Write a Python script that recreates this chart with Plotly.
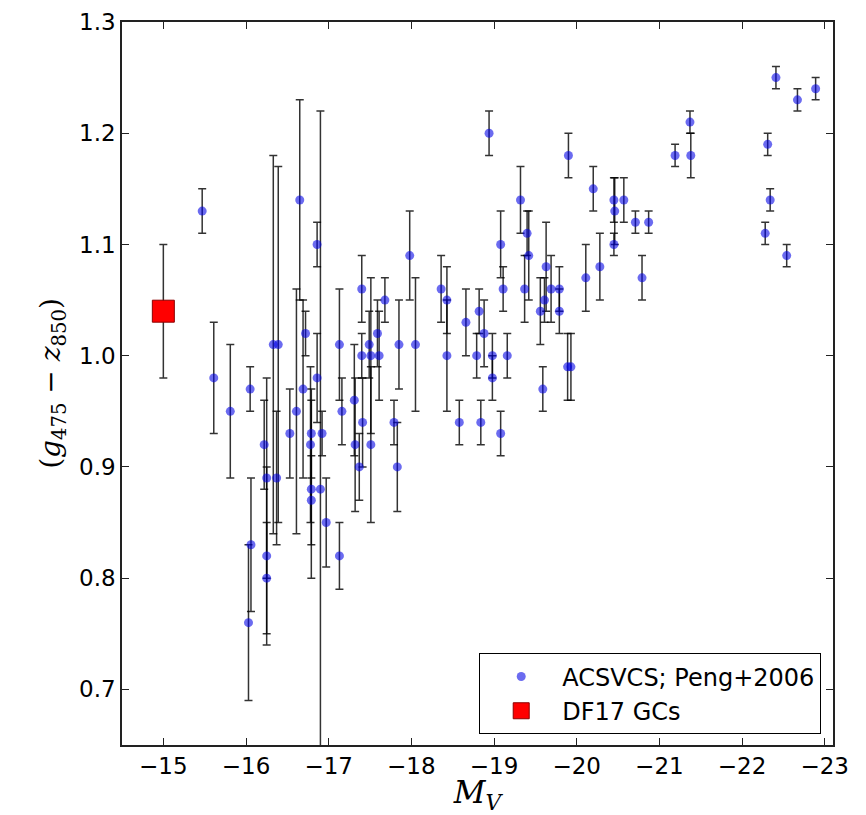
import plotly.graph_objects as go

# ACSVCS galaxies (Peng et al. 2006): absolute V magnitude, GC colour, colour error
acs_mv = [-15.47, -15.61, -15.81, -16.05, -16.06, -16.03, -16.22, -16.25, -16.25, -16.25,
          -16.33, -16.39, -16.37, -16.53, -16.61, -16.65, -16.72, -16.69, -16.86, -16.86,
          -16.79, -16.78, -16.79, -16.79, -16.90, -16.92, -16.97, -17.13, -17.16, -17.13,
          -17.31, -17.32, -17.37, -17.40, -17.40, -17.41, -17.49, -17.51, -17.51, -17.59,
          -17.61, -17.68, -17.79, -17.83, -17.85, -17.98, -18.05, -18.36, -18.43, -18.43,
          -18.58, -18.66, -18.79, -18.82, -18.84, -18.88, -18.94, -18.98, -18.98, -19.08,
          -19.11, -19.08, -19.16, -19.32, -19.37, -19.40, -19.42, -19.56, -19.59, -19.61,
          -19.63, -19.69, -19.79, -19.79, -19.89, -19.93, -19.90, -20.11, -20.20, -20.28,
          -20.45, -20.46, -20.45, -20.57, -20.71, -20.87, -20.79, -21.19, -21.37, -21.38,
          -22.31, -22.41, -22.34, -22.28, -22.54, -22.67, -22.89]
acs_color = [1.13, 0.98, 0.95, 0.97, 0.83, 0.76, 0.92, 0.89, 0.82, 0.80,
             1.01, 1.01, 0.89, 0.93, 0.95, 1.14, 1.02, 0.97, 1.10, 0.98,
             0.93, 0.92, 0.88, 0.87, 0.88, 0.93, 0.85, 1.01, 0.95, 0.82,
             0.96, 0.92, 0.90, 1.06, 1.00, 0.94, 1.01, 1.00, 0.92, 1.02,
             1.00, 1.05, 0.94, 0.90, 1.01, 1.09, 1.01, 1.06, 1.05, 1.00,
             0.94, 1.03, 1.00, 1.04, 0.94, 1.02, 1.20, 1.00, 0.98, 1.10,
             1.06, 0.93, 1.00, 1.14, 1.06, 1.11, 1.09, 1.04, 0.97, 1.05,
             1.08, 1.06, 1.06, 1.04, 0.99, 0.99, 1.18, 1.07, 1.15, 1.08,
             1.14, 1.13, 1.10, 1.14, 1.12, 1.12, 1.07, 1.18, 1.21, 1.18,
             1.19, 1.25, 1.14, 1.11, 1.09, 1.23, 1.24]
acs_err = [0.02, 0.05, 0.06, 0.02, 0.06, 0.07, 0.04, 0.09, 0.08, 0.05,
           0.17, 0.16, 0.06, 0.04, 0.11, 0.09, 0.02, 0.08, 0.02, 0.04,
           0.04, 0.07, 0.08, 0.04, 0.34, 0.02, 0.04, 0.05, 0.03, 0.03,
           0.05, 0.06, 0.03, 0.03, 0.02, 0.04, 0.03, 0.07, 0.07, 0.03,
           0.04, 0.02, 0.02, 0.04, 0.04, 0.04, 0.06, 0.03, 0.03, 0.05,
           0.02, 0.03, 0.02, 0.02, 0.02, 0.03, 0.02, 0.02, 0.02, 0.03,
           0.02, 0.02, 0.02, 0.03, 0.03, 0.02, 0.04, 0.03, 0.02, 0.02,
           0.04, 0.03, 0.02, 0.02, 0.03, 0.03, 0.02, 0.03, 0.02, 0.03,
           0.02, 0.03, 0.01, 0.02, 0.01, 0.01, 0.02, 0.01, 0.01, 0.02,
           0.01, 0.01, 0.01, 0.01, 0.01, 0.01, 0.01]

# DF17 globular clusters
df17_mv = [-15.0]
df17_color = [1.04]
df17_err = [0.06]

x_ticks = [-15, -16, -17, -18, -19, -20, -21, -22, -23]
y_ticks = [0.7, 0.8, 0.9, 1.0, 1.1, 1.2, 1.3]
x_range = [-14.5, -23.1]
y_range = [0.65, 1.3]

fig = go.Figure()

fig.add_trace(go.Scatter(
    x=acs_mv, y=acs_color, mode="markers", name="ACSVCS; Peng+2006",
    marker=dict(size=9, color="rgba(0,0,230,0.58)", line=dict(width=0)),
    error_y=dict(type="data", array=acs_err, visible=True,
                 color="rgba(0,0,0,0.8)", thickness=1.5, width=4),
))

fig.add_trace(go.Scatter(
    x=df17_mv, y=df17_color, mode="markers", name="DF17 GCs",
    marker=dict(size=22, symbol="square", color="#ff0000",
                line=dict(width=1, color="#8b0000")),
    error_y=dict(type="data", array=df17_err, visible=True,
                 color="rgba(0,0,0,0.8)", thickness=1.5, width=4),
))

axis_common = dict(
    showline=True, linecolor="#222222", linewidth=1.6, mirror="allticks",
    ticks="inside", ticklen=7, tickwidth=1, tickcolor="#222222",
    showgrid=False, zeroline=False,
    tickfont=dict(family="DejaVu Sans", size=23, color="black"),
)

fig.update_xaxes(
    range=x_range, tickvals=x_ticks,
    ticktext=["\u2212" + str(abs(v)) for v in x_ticks],
    title=dict(text="<i>M</i><sub><i>V</i></sub>",
               font=dict(family="DejaVu Serif", size=31, color="black"),
               standoff=14),
    **axis_common,
)
fig.update_yaxes(
    range=y_range, tickvals=y_ticks,
    ticktext=[f"{v:.1f}" for v in y_ticks],
    title=dict(text="(<i>g</i><sub>475</sub> \u2212 <i>z</i><sub>850</sub>)",
               font=dict(family="DejaVu Serif", size=28, color="black"),
               standoff=10),
    **axis_common,
)

fig.update_layout(
    width=866, height=815,
    margin=dict(l=122, r=33, t=22, b=70, autoexpand=False),
    paper_bgcolor="white", plot_bgcolor="white",
    showlegend=True,
    legend=dict(
        x=0.983, y=0.015, xanchor="right", yanchor="bottom",
        bordercolor="black", borderwidth=1.3, bgcolor="white",
        font=dict(family="DejaVu Sans", size=24, color="black"),
        itemsizing="trace", itemwidth=72, tracegroupgap=0,
    ),
)

fig.write_html("out.html")
